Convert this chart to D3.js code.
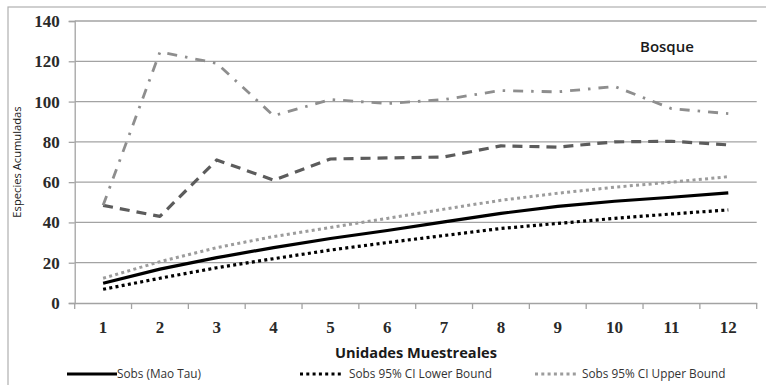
<!DOCTYPE html>
<html><head><meta charset="utf-8">
<script src="https://cdn.jsdelivr.net/npm/d3@7"></script>
<style>html,body{margin:0;padding:0;background:#fff;}svg{display:block;}</style>
</head><body>
<svg id="chart" width="766" height="385"></svg>
<script>
const categories = [1,2,3,4,5,6,7,8,9,10,11,12];
const yTicks = [0,20,40,60,80,100,120,140];
const sobs  = [9.8,16.8,22.5,27.5,32,36,40.3,44.5,48,50.5,52.5,54.7];
const lower = [6.8,12.3,17.5,22,26.3,30,33.5,37,39.5,42,44.2,46.2];
const upper = [12.3,20.5,27.5,33,37.5,42,46.6,51,54.5,57.5,60,62.7];
const chao  = [48.5,124.6,119,93,101,99,101,105.5,104.8,107.5,96.5,94];
const ace   = [48.5,43,71,61,71.5,72,72.5,78,77.4,80,80.3,78.5];
const seriesNames = ["Sobs (Mao Tau)","Sobs 95% CI Lower Bound","Sobs 95% CI Upper Bound","Chao 1 Mean","ACE Mean"];
const chartTitle = "Bosque";
const xTitle = "Unidades Muestreales";
const yTitle = "Especies Acumuladas";

(function(){
const svg = d3.select("#chart");
const pL = 74.7, pR = 756.7, pT = 21, pB = 303;
const x = d3.scaleBand().domain(categories).range([pL,pR]);
const y = d3.scaleLinear().domain([0,140]).range([pB,pT]);
const gridCol = "#a3a3a3";

svg.append("rect").attr("x",8).attr("y",7).attr("width",820).attr("height",420)
  .attr("fill","none").attr("stroke","#b0b0b0").attr("stroke-width",1.2);

svg.append("g").selectAll("line").data(yTicks.filter(d=>d>0)).join("line")
  .attr("x1",pL).attr("x2",pR).attr("y1",d=>y(d)).attr("y2",d=>y(d))
  .attr("stroke",gridCol).attr("stroke-width",1.3);

const yAxis = svg.append("g").attr("transform",`translate(${pL},0)`)
  .call(d3.axisLeft(y).tickValues(yTicks).tickSize(6).tickPadding(9));
yAxis.select(".domain").attr("stroke",gridCol).attr("stroke-width",1.3);
yAxis.selectAll(".tick line").attr("stroke",gridCol).attr("stroke-width",1.3);
yAxis.selectAll("text").attr("font-family","'Liberation Serif',serif").attr("font-weight","bold")
  .attr("font-size",17).attr("fill","#2a2a2a");

const xAxis = svg.append("g").attr("transform",`translate(0,${pB})`)
  .call(d3.axisBottom(x).tickSize(0).tickPadding(18));
xAxis.select(".domain").attr("stroke",gridCol).attr("stroke-width",1.3);
xAxis.selectAll("text").attr("font-family","'Liberation Serif',serif").attr("font-weight","bold")
  .attr("font-size",17).attr("fill","#2a2a2a");
const bounds = categories.map(c=>x(c)).concat([x(categories[categories.length-1])+x.bandwidth()]);
svg.append("g").selectAll("line").data(bounds).join("line")
  .attr("x1",d=>d).attr("x2",d=>d).attr("y1",pB).attr("y2",pB+6)
  .attr("stroke",gridCol).attr("stroke-width",1.3);

const line = d3.line().x((d,i)=>x(categories[i])+x.bandwidth()/2).y(d=>y(d));
const styles = [
  {data:sobs, color:"#000", w:3.2, dash:null},
  {data:lower, color:"#000", w:3.2, dash:"3,3.3"},
  {data:upper, color:"#9c9c9c", w:3, dash:"3,3.3"},
  {data:chao, color:"#8e8e8e", w:2.8, dash:"10,8,2.5,8"},
  {data:ace, color:"#5c5c5c", w:3.2, dash:"10,7"}
];
styles.slice().reverse().forEach(s=>{
  svg.append("path").datum(s.data).attr("d",line).attr("fill","none")
    .attr("stroke",s.color).attr("stroke-width",s.w)
    .attr("stroke-dasharray",s.dash).attr("stroke-linejoin","round");
});

svg.append("text").attr("x",640).attr("y",52).text(chartTitle)
  .attr("font-family","'Open Sans',sans-serif").attr("font-size",15).attr("font-weight",600).attr("fill","#1a1a1a");
svg.append("text").attr("x",416).attr("y",358).attr("text-anchor","middle").text(xTitle)
  .attr("font-family","'Open Sans',sans-serif").attr("font-size",14.6).attr("font-weight","bold").attr("fill","#1a1a1a");
svg.append("text").attr("transform","translate(21,162) rotate(-90)").attr("text-anchor","middle").text(yTitle)
  .attr("font-family","'Open Sans',sans-serif").attr("font-size",11.2).attr("fill","#1a1a1a");

const legPos = [{lx:67,tx:117,y:374,len:50},{lx:300,tx:349,y:374,len:41},{lx:535,tx:582,y:374,len:41},
                {lx:67,tx:117,y:392,len:50},{lx:300,tx:349,y:392,len:41}];
const lg = svg.append("g");
styles.forEach((s,i)=>{
  const p = legPos[i];
  lg.append("line").attr("x1",p.lx).attr("x2",p.lx+p.len).attr("y1",p.y).attr("y2",p.y)
    .attr("stroke",s.color).attr("stroke-width",s.w).attr("stroke-dasharray",s.dash);
  lg.append("text").attr("x",p.tx).attr("y",p.y+4).text(seriesNames[i])
    .attr("font-family","'Open Sans',sans-serif").attr("font-size",11.8).attr("fill","#333");
});
})();
</script>
</body></html>
